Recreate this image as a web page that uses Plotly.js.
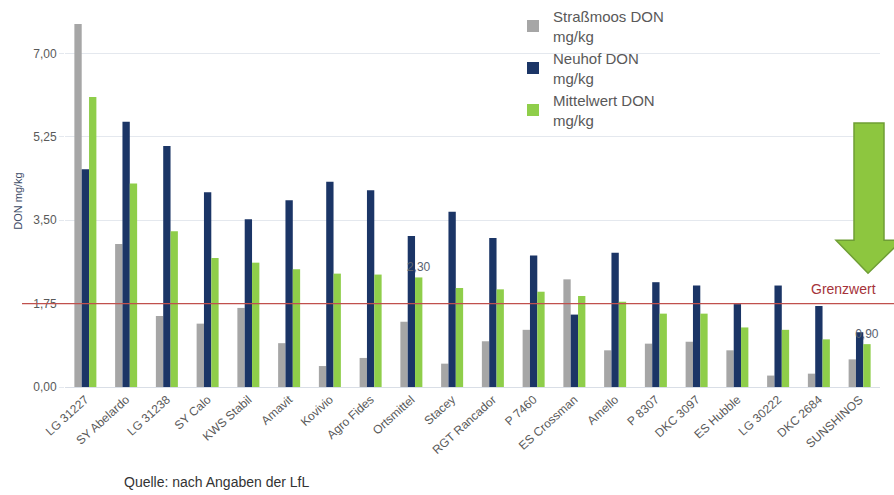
<!DOCTYPE html>
<html>
<head>
<meta charset="utf-8">
<script src="https://cdn.plot.ly/plotly-3.0.1.min.js"></script>
<style>html,body{margin:0;padding:0;background:#fff;}#chart{width:894px;height:495px;}</style>
</head>
<body>
<div id="chart"></div>
<script>
const categories = ["LG 31227","SY Abelardo","LG 31238","SY Calo","KWS Stabil","Amavit","Kovivio","Agro Fides","Ortsmittel","Stacey","RGT Rancador","P 7460","ES Crossman","Amello","P 8307","DKC 3097","ES Hubble","LG 30222","DKC 2684","SUNSHINOS"];
const strassmoos = [7.62,3.00,1.49,1.33,1.66,0.92,0.44,0.61,1.37,0.49,0.96,1.20,2.26,0.77,0.91,0.95,0.77,0.24,0.28,0.58];
const neuhof     = [4.57,5.57,5.06,4.09,3.52,3.92,4.31,4.13,3.17,3.68,3.13,2.76,1.52,2.82,2.20,2.13,1.74,2.13,1.70,1.15];
const mittelwert = [6.09,4.27,3.27,2.71,2.61,2.47,2.38,2.36,2.30,2.08,2.05,2.00,1.91,1.79,1.54,1.54,1.25,1.20,1.00,0.90];
const labelled   = ["Ortsmittel","SUNSHINOS"];
const yTicks     = [0, 1.75, 3.5, 5.25, 7.0];
const grenzwert  = 1.75;

const seriesNames = ["Straßmoos DON<br>mg/kg","Neuhof DON<br>mg/kg","Mittelwert DON<br>mg/kg"];

const mtext = mittelwert.map((v,i)=> labelled.includes(categories[i]) ? v.toFixed(2).replace('.',',') : '');

const traces = [
  {type:'bar', name:seriesNames[0], x:categories, y:strassmoos, marker:{color:'#a6a6a6'}},
  {type:'bar', name:seriesNames[1], x:categories, y:neuhof, marker:{color:'#1b3566'}},
  {type:'bar', name:seriesNames[2], x:categories, y:mittelwert, marker:{color:'#8fce4a'},
   text:mtext, textposition:'outside', cliponaxis:false, constraintext:'none',
   textfont:{family:'Liberation Sans, Arial, sans-serif', size:12, color:'#5a6270'}}
];

// pixel -> paper helpers for decorations
const W=894, H=495;
const L=65, R=880, T=15, B=386.7;
const px = x => (x-L)/(R-L);
const py = y => (B-y)/(B-T);

const arrowPath = [
  [854,123],[884,123],[884,240],[902,240],[868,273],[836,240],[854,240]
].map((p,i)=> (i===0?'M':'L') + px(p[0]).toFixed(4) + ',' + py(p[1]).toFixed(4)).join(' ') + ' Z';

const layout = {
  width:W, height:H,
  margin:{l:L, r:W-R, t:T, b:H-B, autoexpand:false},
  paper_bgcolor:'#fff', plot_bgcolor:'#fff',
  font:{family:'Liberation Sans, Arial, sans-serif', color:'#595959'},
  barmode:'group', bargap:0.46, bargroupgap:0,
  separators:',.',
  showlegend:true,
  legend:{xref:'container', yref:'container', x:513/W, y:1, xanchor:'left', yanchor:'top',
          bgcolor:'rgba(0,0,0,0)', font:{size:15, color:'#595959'}, tracegroupgap:0, itemwidth:30},
  xaxis:{tickangle:-42, tickfont:{size:12, color:'#595959'}, showgrid:false,
         showline:true, linecolor:'#d9dee6', linewidth:1, ticks:''},
  yaxis:{range:[0,(B-T)/47.6], tickvals:yTicks, tickformat:'.2f',
         tickfont:{size:12, color:'#595959'}, showgrid:true, gridcolor:'#e4e8ee',
         zeroline:true, zerolinecolor:'#d9dee6', ticks:'outside', ticklen:5, tickcolor:'#e4e8ee',
         title:{text:'DON mg/kg', font:{size:11, color:'#3b4a66'}, standoff:8}},
  shapes:[
    {type:'line', xref:'paper', yref:'y', x0:px(22), x1:px(894), y0:grenzwert, y1:grenzwert,
     line:{color:'#c0504d', width:1.2}, layer:'above'},
    {type:'path', xref:'paper', yref:'paper', path:arrowPath,
     fillcolor:'#8dc63f', line:{color:'#6f9e35', width:1.5}, layer:'above'}
  ],
  annotations:[
    {xref:'paper', yref:'paper', x:px(878), y:py(289), xanchor:'right', yanchor:'middle',
     text:'Grenzwert', showarrow:false, font:{size:14, color:'#a5333a'}},
    {xref:'paper', yref:'paper', x:px(122), y:py(482), xanchor:'left', yanchor:'middle',
     text:'Quelle: nach Angaben der LfL', showarrow:false, font:{size:14, color:'#333'}}
  ]
};

Plotly.newPlot('chart', traces, layout, {displayModeBar:false, staticPlot:true});
</script>
</body>
</html>
